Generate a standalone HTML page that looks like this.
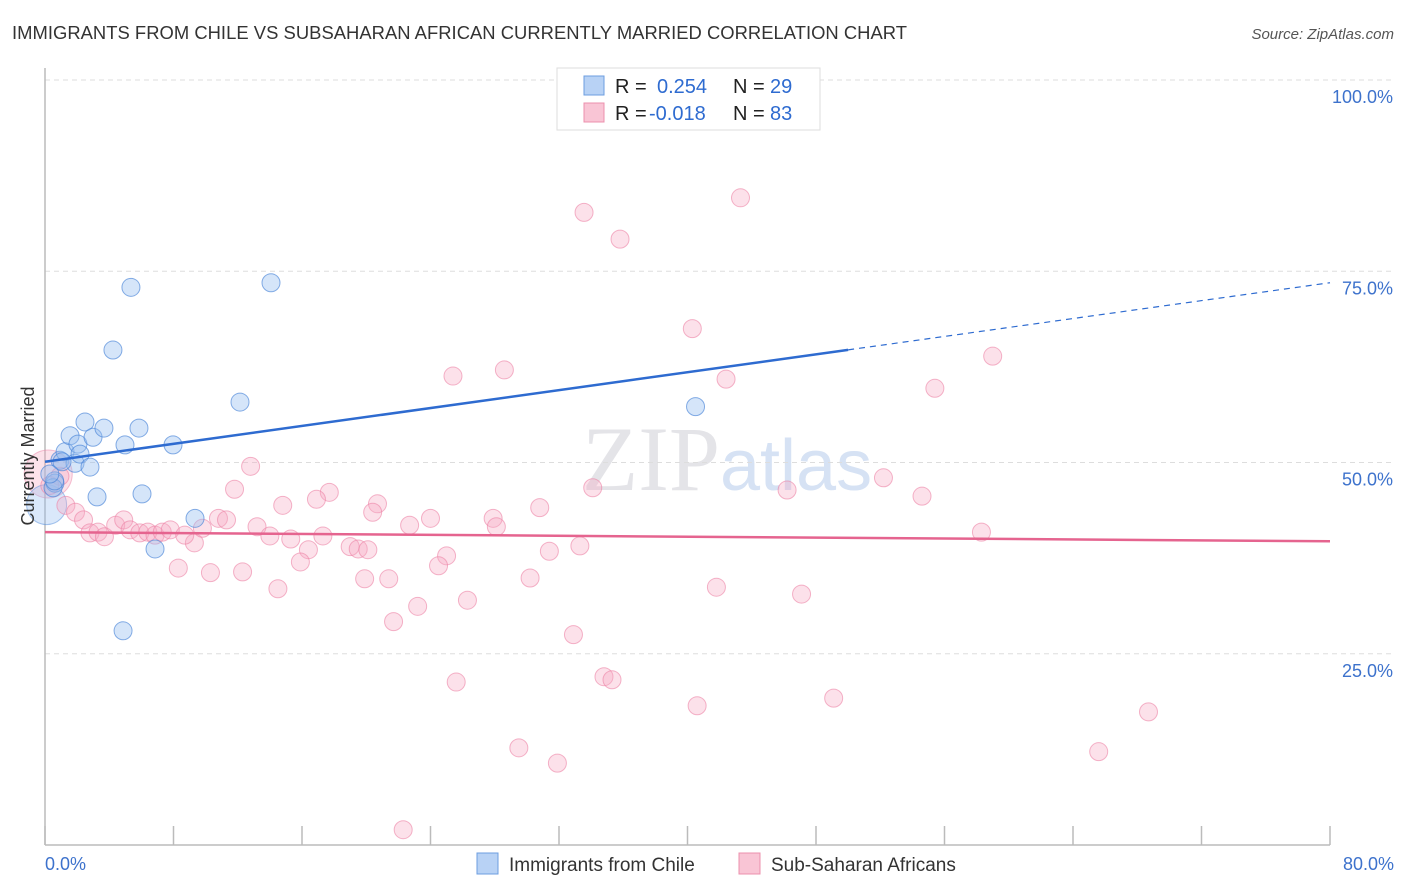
<!DOCTYPE html>
<html><head><meta charset="utf-8"><style>
body{margin:0;background:#fff;font-family:"Liberation Sans",sans-serif;}
#wrap{position:relative;width:1406px;height:892px;overflow:hidden;}
</style></head><body>
<div id="wrap">
<svg id="svg" width="1406" height="892" xmlns="http://www.w3.org/2000/svg">
<text x="12" y="39" font-size="18.4" fill="#333" textLength="895">IMMIGRANTS FROM CHILE VS SUBSAHARAN AFRICAN CURRENTLY MARRIED CORRELATION CHART</text>
<text x="1394" y="39" font-size="15" fill="#555" font-style="italic" text-anchor="end">Source: ZipAtlas.com</text>
<text x="720" y="490" font-size="92" fill="#e4e4e8" text-anchor="end" font-family="Liberation Serif">ZIP</text>
<text x="720" y="490" font-size="72" fill="#d6e2f4">atlas</text>
<g id="grid"></g>
<g id="axes"></g>
<g id="pts"></g>
<g id="lines"></g>
<text x="34" y="456" font-size="18" fill="#333" text-anchor="middle" transform="rotate(-90 34 456)">Currently Married</text>
<rect x="557" y="68" width="263" height="62" fill="#fff" stroke="#ddd"/>
<rect x="584" y="76" width="20" height="19" fill="#b8d2f5" stroke="#6c9ee0"/>
<rect x="584" y="103" width="20" height="19" fill="#f9c5d5" stroke="#ec90ad"/>
<text font-size="20"><tspan x="615" y="93" fill="#222">R = </tspan><tspan x="657" y="93" fill="#2e6bd0">0.254</tspan><tspan x="733" y="93" fill="#222">N = </tspan><tspan x="770" y="93" fill="#2e6bd0">29</tspan></text>
<text font-size="20"><tspan x="615" y="120" fill="#222">R = </tspan><tspan x="649" y="120" fill="#2e6bd0">-0.018</tspan><tspan x="733" y="120" fill="#222">N = </tspan><tspan x="770" y="120" fill="#2e6bd0">83</tspan></text>
<text x="45" y="870" font-size="18" fill="#3d72cc">0.0%</text>
<text x="1394" y="870" font-size="18" fill="#3d72cc" text-anchor="end">80.0%</text>
<rect x="477" y="853" width="21" height="21" fill="#b8d2f5" stroke="#6c9ee0"/>
<text x="509" y="871" font-size="19" fill="#333">Immigrants from Chile</text>
<rect x="739" y="853" width="21" height="21" fill="#f9c5d5" stroke="#ec90ad"/>
<text x="771" y="871" font-size="19" fill="#333">Sub-Saharan Africans</text>
</svg>
</div>
<script>
const yTicks=[25,50,75,100];
const yTickLabels=["25.0%","50.0%","75.0%","100.0%"];
const xTicks=[0,8,16,24,32,40,48,56,64,72,80];
const chileX=[0.62,0.5,0.93,1.25,1.56,1.87,2.05,2.18,2.49,2.8,2.99,3.24,3.67,4.23,4.98,5.35,5.85,6.04,6.85,7.97,9.34,4.86,12.14,14.07,40.5,1.06,0.6,0.3];
const chileY=[47.3,46.7,50.3,51.4,53.5,49.9,52.4,51.1,55.3,49.4,53.3,45.5,54.5,64.7,52.3,72.9,54.5,45.9,38.7,52.3,42.7,28.0,57.9,73.5,57.3,50.1,47.6,48.5];
const afrX=[33.56,43.3,35.8,40.3,28.6,25.4,42.4,59.0,55.4,12.8,11.8,17.7,16.9,14.8,20.7,20.4,30.8,34.1,46.2,52.2,54.6,58.3,24.0,27.9,22.7,28.1,10.8,11.3,13.2,14.0,15.3,17.3,19.0,19.5,20.1,16.4,9.3,25.0,31.4,33.3,24.5,15.9,8.3,10.3,12.3,19.9,21.4,30.2,14.5,41.8,47.1,26.3,23.2,21.7,32.9,34.8,35.3,25.6,40.6,49.1,68.7,29.5,31.9,65.6,22.3,0.93,1.3,1.9,2.4,2.8,3.3,3.7,4.4,4.9,5.3,5.9,6.4,6.85,7.3,7.8,8.7,9.8,0.3];
const afrY=[82.7,84.6,79.2,67.5,62.1,61.3,60.9,63.9,59.7,49.5,46.5,46.1,45.2,44.4,44.6,43.5,44.1,46.7,46.4,48.0,45.6,40.9,42.7,42.7,41.8,41.6,42.7,42.5,41.6,40.4,40.0,40.4,39.0,38.7,38.6,38.6,39.5,37.8,38.4,39.1,36.5,37.0,36.2,35.6,35.7,34.8,34.8,34.9,33.5,33.7,32.8,32.0,31.2,29.2,27.5,22.0,21.6,21.3,18.2,19.2,17.4,12.7,10.7,12.2,2.0,48.2,44.4,43.5,42.5,40.8,40.9,40.3,41.8,42.5,41.2,40.8,40.9,40.5,40.9,41.2,40.5,41.4,47.0];
const chileTrend=[50.1,73.5];
const afrTrend=[40.9,39.7];
const xs=v=>45+v*(1285/80);
const ys=v=>845-v*7.65;
const NS="http://www.w3.org/2000/svg";
function mk(tag,attrs,parent){const e=document.createElementNS(NS,tag);for(const k in attrs)e.setAttribute(k,attrs[k]);document.getElementById(parent).appendChild(e);return e;}
yTicks.forEach((t,i)=>{
 const l=mk('line',{x1:45,x2:1394,y1:ys(t),y2:ys(t),stroke:'#ddd','stroke-dasharray':'5,4'},'grid');
 
 
 const tx=mk('text',{x:1393,y:ys(t)+23,'font-size':18,fill:'#3d72cc','text-anchor':'end'},'grid');
 tx.textContent=yTickLabels[i];
 
 
});
let a=mk('line',{x1:45,x2:45,y1:68,y2:845,stroke:'#bbb','stroke-width':1.5},'axes');


a=mk('line',{x1:45,x2:1330,y1:845,y2:845,stroke:'#bbb','stroke-width':1.5},'axes');


xTicks.forEach(t=>{
 const l=mk('line',{x1:xs(t),x2:xs(t),y1:826,y2:845,stroke:'#bbb','stroke-width':1.5},'axes');
 
 
});
let b=mk('circle',{cx:xs(0.2),cy:ys(48.5),r:24,fill:'rgba(245,160,185,0.3)',stroke:'rgba(236,130,165,0.5)'},'pts');


b=mk('circle',{cx:xs(0.1),cy:ys(44.5),r:20,fill:'rgba(150,190,240,0.35)',stroke:'rgba(80,140,220,0.5)'},'pts');


afrX.forEach((x,i)=>{
 const c=mk('circle',{cx:xs(x),cy:ys(afrY[i]),r:9,fill:'rgba(246,170,195,0.35)',stroke:'rgba(236,130,165,0.6)'},'pts');
 
 
});
chileX.forEach((x,i)=>{
 const c=mk('circle',{cx:xs(x),cy:ys(chileY[i]),r:9,fill:'rgba(150,190,240,0.4)',stroke:'rgba(70,130,215,0.65)'},'pts');
 
 
});
const split=50;
const cy=x=>chileTrend[0]+(chileTrend[1]-chileTrend[0])*x/80;
let t=mk('line',{x1:xs(0),y1:ys(cy(0)),x2:xs(split),y2:ys(cy(split)),stroke:'#2e6bd0','stroke-width':2.5},'lines');


t=mk('line',{x1:xs(split),y1:ys(cy(split)),x2:xs(80),y2:ys(cy(80)),stroke:'#2e6bd0','stroke-width':1.2,'stroke-dasharray':'6,5'},'lines');


t=mk('line',{x1:xs(0),y1:ys(afrTrend[0]),x2:xs(80),y2:ys(afrTrend[1]),stroke:'#e5648f','stroke-width':2.5},'lines');


</script>
</body></html>
